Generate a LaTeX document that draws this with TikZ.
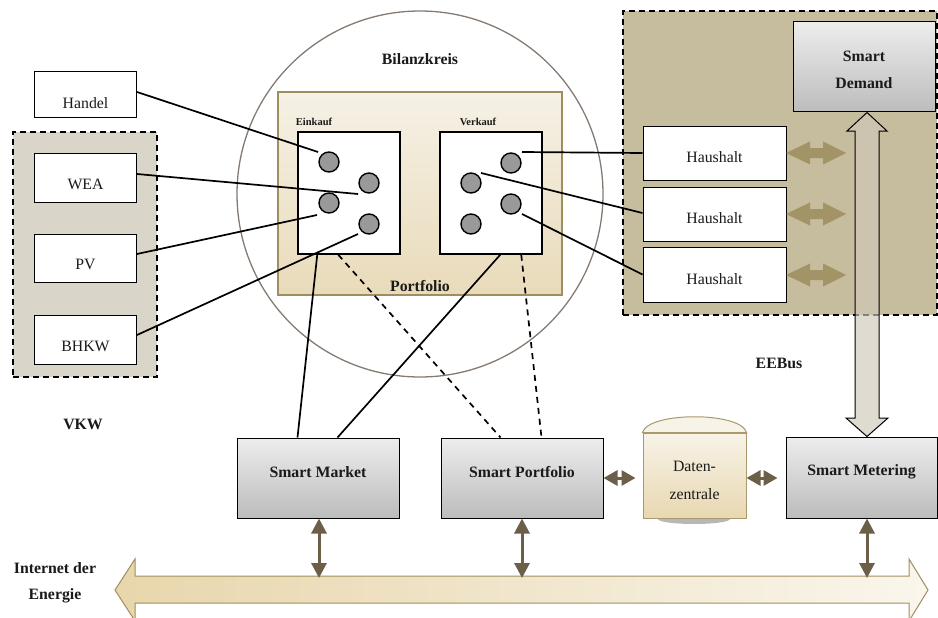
\documentclass[tikz,border=0pt]{standalone}
\usepackage{fontspec}
\setmainfont{Liberation Serif}
\usetikzlibrary{arrows.meta,calc}
\definecolor{vkwfill}{HTML}{D9D5C8}
\definecolor{eefill}{HTML}{C6BC9E}
\definecolor{circcol}{HTML}{857A72}
\definecolor{pfborder}{HTML}{A08F5E}
\definecolor{pftop}{HTML}{F6F1E6}
\definecolor{pfbot}{HTML}{E9DBBA}
\definecolor{dotgray}{HTML}{999999}
\definecolor{olive}{HTML}{A39468}
\definecolor{darkol}{HTML}{6B5F47}
\definecolor{hollow}{HTML}{D0C9B7}
\definecolor{boxtop}{HTML}{EDEDED}
\definecolor{boxbot}{HTML}{BCBCBC}
\definecolor{cyltop}{HTML}{F8F3E7}
\definecolor{cylbot}{HTML}{E8D8B2}
\definecolor{cylborder}{HTML}{A89A6C}
\definecolor{netleft}{HTML}{E8D6AC}
\definecolor{netright}{HTML}{FAF6EC}
\definecolor{txtcol}{HTML}{1A1A1A}
\begin{document}
\begin{tikzpicture}[x=1pt,y=-1pt,
  txt/.style={font=\fontsize{15.8}{18}\selectfont, text=txtcol, inner sep=0},
  btxt/.style={font=\bfseries\fontsize{15.8}{18}\selectfont, text=txtcol, inner sep=0},
  stxt/.style={font=\bfseries\fontsize{10.5}{12}\selectfont, text=txtcol, inner sep=0},
  whitebox/.style={draw=black, fill=white, line width=1pt, inner sep=0},
  graybox/.style={draw=black, top color=boxtop, bottom color=boxbot, line width=1pt, inner sep=0},
  grp/.style={draw=black, line width=1.6pt, dash pattern=on 6pt off 4pt, inner sep=0},
  dot/.style={circle, minimum size=20pt, inner sep=0, fill=dotgray, draw=black, line width=1.4pt},
  conn/.style={draw=black, line width=1.7pt},
  dconn/.style={draw=black, line width=1.7pt, dash pattern=on 6pt off 5pt},
  darrow/.style={draw=darkol, line width=3pt, {Triangle[length=15pt,width=15pt]}-{Triangle[length=15pt,width=15pt]}},
  harrow/.style={draw=darkol, line width=3pt, {Triangle[length=14pt,width=15pt]}-{Triangle[length=14pt,width=15pt]}}
]
\useasboundingbox (0,0) rectangle (938,618);
\fill[white] (0,0) rectangle (938,618);

% ---------- VKW group ----------
\node[grp, fill=vkwfill, minimum width=144pt, minimum height=245pt] (vkwgrp) at (85,254.5) {};
\node[whitebox, minimum width=102pt, minimum height=46pt] (handel) at (85.5,95) {};
\node[whitebox, minimum width=102pt, minimum height=49pt] (wea) at (85.5,177.5) {};
\node[whitebox, minimum width=102pt, minimum height=48pt] (pv) at (85.5,258) {};
\node[whitebox, minimum width=102pt, minimum height=49pt] (bhkw) at (85.5,339.5) {};
\node[txt] at (85.5,103.5) {Handel};
\node[txt] at (85.5,184.5) {WEA};
\node[txt] at (85.5,264.5) {PV};
\node[txt] at (85.5,346.5) {BHKW};
\node[btxt] at (83,424) {VKW};

% ---------- Bilanzkreis ----------
\node[circle, draw=circcol, line width=1.3pt, minimum size=366pt, inner sep=0] (bk) at (420,194) {};
\node[btxt] at (420,59) {Bilanzkreis};
\node[draw=pfborder, line width=1.6pt, top color=pftop, bottom color=pfbot, minimum width=284pt, minimum height=203pt, inner sep=0] (pf) at (420,193.5) {};
\node[btxt] at (420,286) {Portfolio};
\node[whitebox, line width=1.5pt, minimum width=102pt, minimum height=122pt] (ek) at (349,193) {};
\node[whitebox, line width=1.5pt, minimum width=102pt, minimum height=122pt] (vk) at (491,193) {};
\node[stxt] at (314,122) {Einkauf};
\node[stxt] at (478,122) {Verkauf};
\node[dot] (e1) at (329,162) {};
\node[dot] (e2) at (369,183) {};
\node[dot] (e3) at (329,203) {};
\node[dot] (e4) at (369,224) {};
\node[dot] (v1) at (511,163) {};
\node[dot] (v2) at (471,183) {};
\node[dot] (v3) at (511,204) {};
\node[dot] (v4) at (471,224) {};

% ---------- EEBus region ----------
\node[grp, fill=eefill, minimum width=314pt, minimum height=304pt] (eegrp) at (780,163) {};
\node[graybox, minimum width=142pt, minimum height=90pt] (sd) at (864,67) {};
\node[btxt] at (864,56) {Smart};
\node[btxt] at (864,83) {Demand};
\node[whitebox, minimum width=143pt, minimum height=54pt] (h1) at (714.5,153) {};
\node[whitebox, minimum width=143pt, minimum height=54pt] (h2) at (714.5,214) {};
\node[whitebox, minimum width=143pt, minimum height=55pt] (h3) at (714.5,274.5) {};
\node[txt] at (714.5,157) {Haushalt};
\node[txt] at (714.5,218) {Haushalt};
\node[txt] at (714.5,279) {Haushalt};
\foreach \yy in {153,214,275}{
  \fill[olive] (786,\yy) -- (810,\yy-11.5) -- (810,\yy-5) -- (823,\yy-5) -- (823,\yy-11.5)
    -- (846,\yy) -- (823,\yy+11.5) -- (823,\yy+5) -- (810,\yy+5) -- (810,\yy+11.5) -- cycle;
}
\node[btxt] at (779,363) {EEBus};

% ---------- bottom boxes ----------
\node[graybox, minimum width=162pt, minimum height=80pt] (sm) at (318,478) {};
\node[graybox, minimum width=162pt, minimum height=80pt] (sp) at (522,478) {};
\node[graybox, minimum width=151pt, minimum height=81pt] (sme) at (861.5,477.5) {};
\node[btxt] at (318,472) {Smart Market};
\node[btxt] at (522,472) {Smart Portfolio};
\node[btxt] at (861.5,472) {Smart Metering};

% hollow vertical arrow
\filldraw[fill=hollow, fill opacity=0.65, draw=black, line width=1pt]
  (sd.south -| 867,0) -- (887,131) -- (879,131) -- (879,418) -- (888,418) -- (sme.north -| 867,0)
  -- (846,418) -- (855,418) -- (855,131) -- (847,131) -- cycle;

% Datenzentrale cylinder
\fill[gray!70, opacity=0.8] (694,519) ellipse [x radius=36, y radius=5];
\node[draw=cylborder, line width=1pt, top color=cyltop, bottom color=cylbot, minimum width=103pt, minimum height=85pt, inner sep=0] (dz) at (694.5,475.5) {};
\filldraw[fill=cyltop, draw=cylborder, line width=1pt] (dz.north west) .. controls (648,411.5) and (741,411.5) .. (dz.north east) -- cycle;
\node[txt] at (694.5,466) {Daten-};
\node[txt] at (694.5,494) {zentrale};

% Internet der Energie
\draw[draw=pfborder, line width=1pt, left color=netleft, right color=netright]
  (115,590) -- (135,559) -- (135,576) -- (909,576) -- (909,559) -- (928,590) -- (909,621)
  -- (909,603) -- (135,603) -- (135,621) -- cycle;
\coordinate (nettop) at (0,578);
\node[btxt] at (55,568) {Internet der};
\node[btxt] at (55,596) {Energie};

% ---------- connectors ----------
\draw[conn] ($(handel.east)+(0,-3)$) -- ($(e1)+(-11,-10)$);
\draw[conn] ($(wea.east)+(0,-3.5)$) -- ($(e2)+(-11,11)$);
\draw[conn] ($(pv.east)+(0,-4)$) -- ($(e3)+(-12,12)$);
\draw[conn] ($(bhkw.east)+(0,-4.5)$) -- ($(e4)+(-11,10)$);
\draw[conn] ($(v1)+(11,-11)$) -- (h1.west);
\draw[conn] ($(v2)+(10,-10)$) -- ($(h2.west)+(0,-1)$);
\draw[conn] ($(v3)+(11,10)$) -- (h3.west);
\draw[conn] ($(ek.south west)+(20,0)$) -- ($(sm.north west)+(61,0)$);
\draw[conn] ($(vk.south west)+(61,0)$) -- ($(sm.north west)+(101,0)$);
\draw[dconn] ($(ek.south west)+(41,0)$) -- ($(sp.north west)+(60,0)$);
\draw[dconn] ($(vk.south west)+(82,0)$) -- ($(sp.north west)+(101,0)$);

% small dark arrows
\draw[harrow] (sp.east) -- ($(dz.west)+(-7,2.5)$);
\draw[harrow] ($(dz.east)+(0,2.5)$) -- ($(sme.west)+(-8,0.5)$);
\draw[darrow] ($(sm.south)+(1,0)$) -- ($(sm.south |- nettop)+(1,0)$);
\draw[darrow] (sp.south) -- (sp.south |- nettop);
\draw[darrow] ($(sme.south)+(5.5,0)$) -- ($(sme.south |- nettop)+(5.5,0)$);
\end{tikzpicture}
\end{document}
